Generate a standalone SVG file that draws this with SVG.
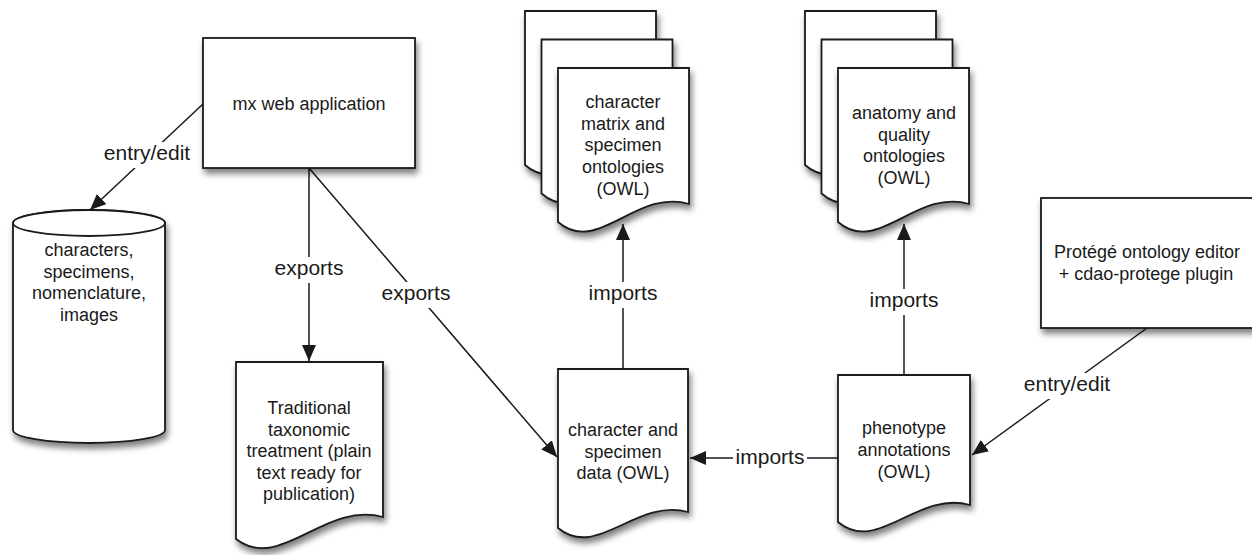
<svg xmlns="http://www.w3.org/2000/svg" width="1252" height="555" viewBox="0 0 1252 555">
<style>
.shape{fill:#fff;stroke:#1a1a1a;stroke-width:1.8;filter:url(#sh)}
.t{font-family:"Liberation Sans",Arial,sans-serif;font-size:18px;fill:#1a1a1a;text-anchor:middle}
.lbl{font-family:"Liberation Sans",Arial,sans-serif;font-size:21px;fill:#1a1a1a;text-anchor:middle}
.conn{stroke:#1a1a1a;stroke-width:1.5;fill:none}
.bg{fill:#fff}
</style>
<defs>
<filter id="sh" x="-20%" y="-20%" width="140%" height="150%">
<feGaussianBlur in="SourceAlpha" stdDeviation="3"/>
<feOffset dx="2" dy="5" result="b"/>
<feComponentTransfer><feFuncA type="linear" slope="0.5"/></feComponentTransfer>
<feMerge><feMergeNode/><feMergeNode in="SourceGraphic"/></feMerge>
</filter>
<marker id="arr" markerUnits="userSpaceOnUse" markerWidth="18" markerHeight="14" refX="16" refY="7" orient="auto">
<path d="M0,0 L16,7 L0,14 Z" fill="#1a1a1a"/>
</marker>
</defs>
<rect width="1252" height="555" fill="#fff"/>

<g id="connectors">
<line class="conn" x1="203" y1="104" x2="90" y2="210" marker-end="url(#arr)"/>
<line class="conn" x1="309" y1="168" x2="309" y2="361" marker-end="url(#arr)"/>
<line class="conn" x1="309" y1="168" x2="557" y2="457" marker-end="url(#arr)"/>
<line class="conn" x1="623" y1="369" x2="623" y2="224" marker-end="url(#arr)"/>
<line class="conn" x1="904" y1="375" x2="904" y2="224" marker-end="url(#arr)"/>
<line class="conn" x1="838" y1="458" x2="690" y2="458" marker-end="url(#arr)"/>
<line class="conn" x1="1147" y1="328" x2="972" y2="455" marker-end="url(#arr)"/>
<rect class="bg" x="101" y="142" width="92" height="26"/>
<text class="lbl" x="147" y="160">entry/edit</text>
<rect class="bg" x="271" y="257" width="76" height="26"/>
<text class="lbl" x="309" y="275">exports</text>
<rect class="bg" x="378" y="282" width="76" height="26"/>
<text class="lbl" x="416" y="300">exports</text>
<rect class="bg" x="586" y="282" width="74" height="26"/>
<text class="lbl" x="623" y="300">imports</text>
<rect class="bg" x="867" y="289" width="74" height="26"/>
<text class="lbl" x="904" y="307">imports</text>
<rect class="bg" x="733" y="446" width="74" height="26"/>
<text class="lbl" x="770" y="464">imports</text>
<rect class="bg" x="1021" y="373" width="92" height="26"/>
<text class="lbl" x="1067" y="391">entry/edit</text>
</g>

<g id="mx">
<rect class="shape" x="203" y="38" width="212" height="130"/>
<text class="t" x="309" y="110">mx web application</text>
</g>

<g id="db">
<path class="shape" d="M13,223 V430 A76,13 0 0 0 165,430 V223 A76,13 0 0 0 13,223 Z"/>
<ellipse cx="89" cy="223" rx="76" ry="13" fill="#fff" stroke="#1a1a1a" stroke-width="1.8"/>
<text class="t" x="89" y="256">characters,</text>
<text class="t" x="89" y="278">specimens,</text>
<text class="t" x="89" y="299">nomenclature,</text>
<text class="t" x="89" y="321">images</text>
</g>

<g id="traditional">
<path class="shape" d="M236,362 H383 V517 c-58.8,-16 -102.9,56 -147,22 Z"/>
<text class="t" x="309" y="414">Traditional</text>
<text class="t" x="309" y="436">taxonomic</text>
<text class="t" x="309" y="457">treatment (plain</text>
<text class="t" x="309" y="479">text ready for</text>
<text class="t" x="309" y="500">publication)</text>
</g>

<g id="chardata">
<path class="shape" d="M558,369 H688 V512 c-52,-14 -91,48 -130,16 Z"/>
<text class="t" x="623" y="436">character and</text>
<text class="t" x="623" y="458">specimen</text>
<text class="t" x="623" y="479">data (OWL)</text>
</g>

<g id="charmatrix">
<path class="shape" d="M525,11 H656 V147 c-52.4,-16 -91.7,52 -131,18 Z"/>
<path class="shape" d="M541.5,39.5 H672.5 V175.5 c-52.4,-16 -91.7,52 -131,18 Z"/>
<path class="shape" d="M558,68 H689 V204 c-52.4,-16 -91.7,52 -131,18 Z"/>
<text class="t" x="623" y="108">character</text>
<text class="t" x="623" y="130">matrix and</text>
<text class="t" x="623" y="151">specimen</text>
<text class="t" x="623" y="173">ontologies</text>
<text class="t" x="623" y="195">(OWL)</text>
</g>

<g id="anatomy">
<path class="shape" d="M805,11 H936 V147 c-52.4,-16 -91.7,52 -131,18 Z"/>
<path class="shape" d="M821.5,39.5 H952.5 V175.5 c-52.4,-16 -91.7,52 -131,18 Z"/>
<path class="shape" d="M838,68 H969 V204 c-52.4,-16 -91.7,52 -131,18 Z"/>
<text class="t" x="904" y="119">anatomy and</text>
<text class="t" x="904" y="141">quality</text>
<text class="t" x="904" y="162">ontologies</text>
<text class="t" x="904" y="184">(OWL)</text>
</g>

<g id="phenotype">
<path class="shape" d="M838,375 H970 V505 c-52.8,-15 -92.4,50 -132,17 Z"/>
<text class="t" x="904" y="434">phenotype</text>
<text class="t" x="904" y="456">annotations</text>
<text class="t" x="904" y="478">(OWL)</text>
</g>

<g id="protege">
<rect class="shape" x="1041" y="198" width="216" height="130"/>
<text class="t" x="1147" y="258">Protégé ontology editor</text>
<text class="t" x="1146" y="280">+ cdao-protege plugin</text>
</g>
</svg>
